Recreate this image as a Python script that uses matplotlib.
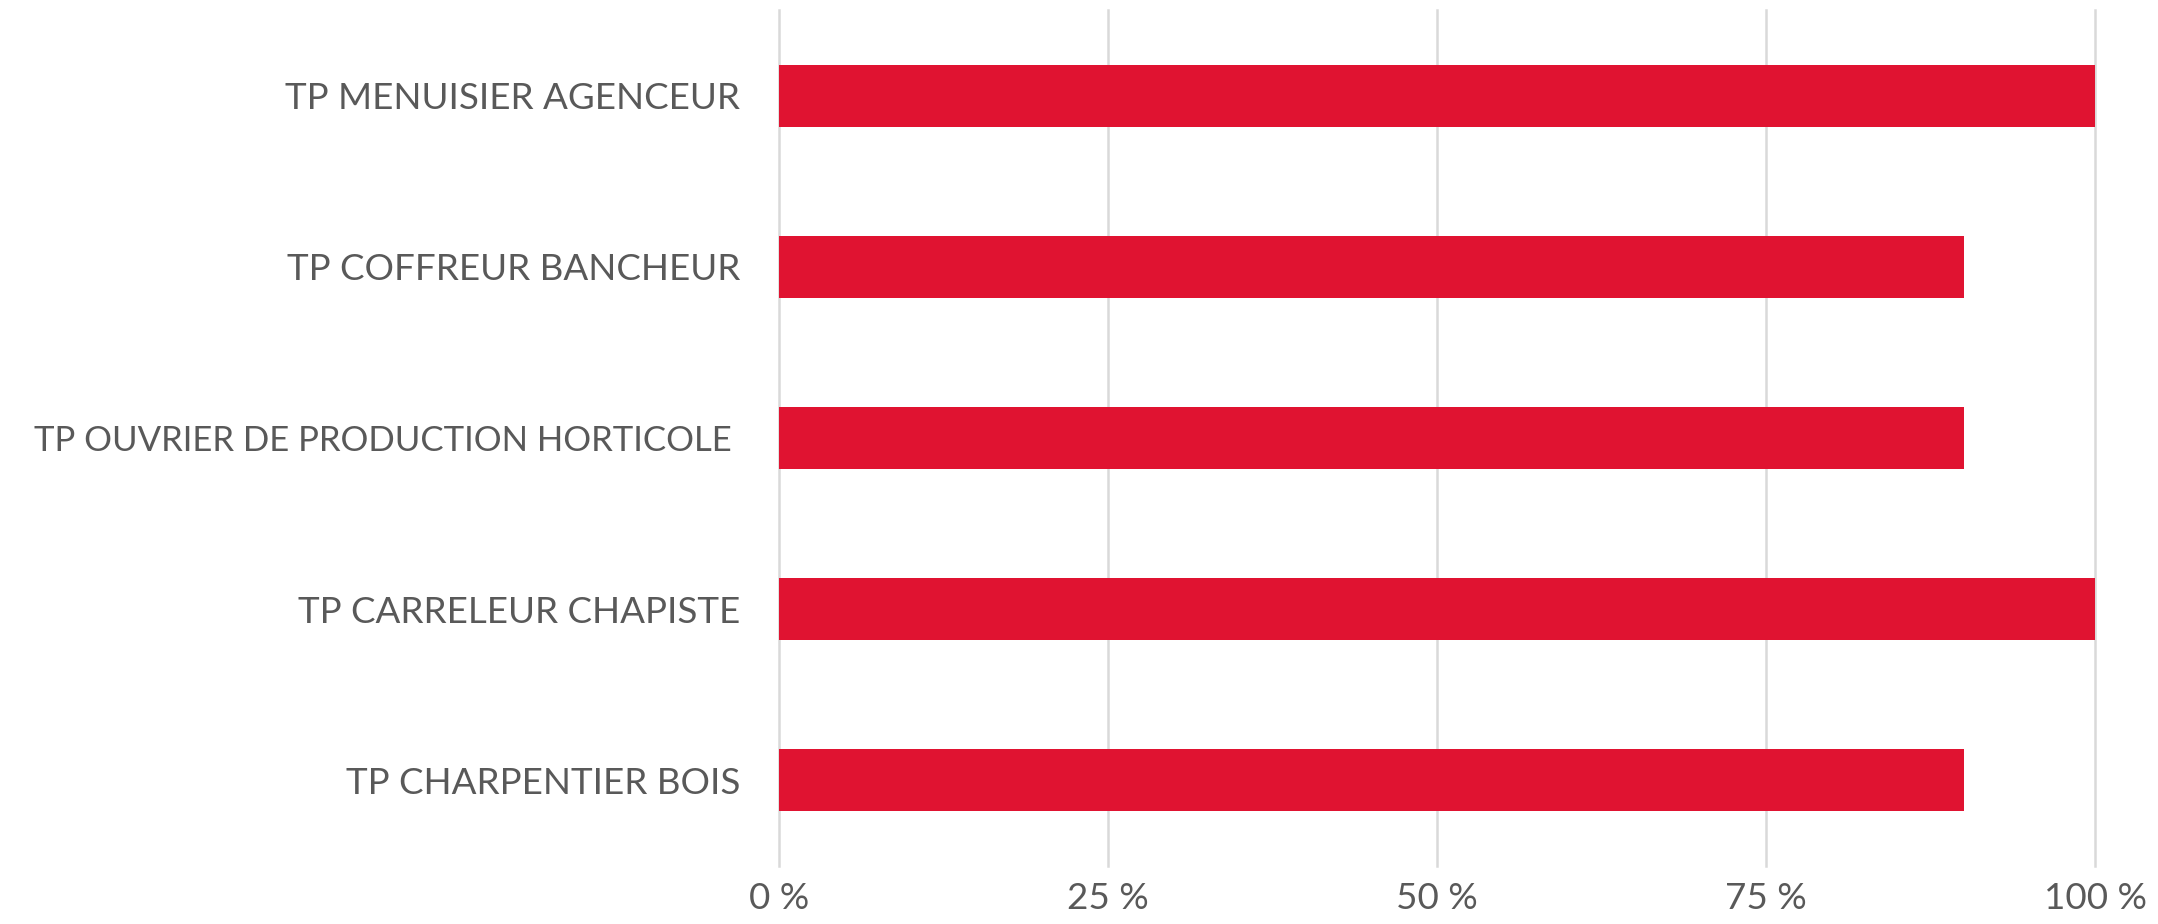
import matplotlib.pyplot as plt
from matplotlib.ticker import FixedLocator

# Data, listed bottom to top as drawn
categories = [
    "TP CHARPENTIER BOIS",
    "TP CARRELEUR CHAPISTE",
    "TP OUVRIER DE PRODUCTION HORTICOLE ",
    "TP COFFREUR BANCHEUR",
    "TP MENUISIER AGENCEUR",
]
values = [90, 100, 90, 90, 100]
tick_values = [0, 25, 50, 75, 100]
tick_labels = ["0 %", "25 %", "50 %", "75 %", "100 %"]

plt.rcParams['font.family'] = ['Lato', 'DejaVu Sans']

fig = plt.figure(figsize=(21.58, 9.24), dpi=100)
ax = fig.add_axes([0.361, 0.063, 0.610, 0.926])

ax.barh(range(len(categories)), values, height=0.36, color='#E01331', zorder=3)

ax.set_xlim(0, 100)
ax.set_ylim(-0.5, len(categories) - 0.5)
ax.set_yticks(range(len(categories)))
ax.set_yticklabels(categories)
ax.xaxis.set_major_locator(FixedLocator(tick_values))
ax.set_xticklabels(tick_labels)

for v in tick_values:
    ax.axvline(v, color='#D9D9D9', linewidth=1.8, zorder=1, clip_on=False)

for s in ax.spines.values():
    s.set_visible(False)

ax.tick_params(axis='both', length=0, labelsize=26.5, labelcolor='#595959')
ax.tick_params(axis='y', pad=28)
ax.tick_params(axis='x', pad=12)

# the longest label is a bit wider in Lato than in the original font
for lbl in ax.get_yticklabels():
    if len(lbl.get_text()) > 30:
        lbl.set_fontsize(25)

fig.savefig('out.png', dpi=100, facecolor='white')
